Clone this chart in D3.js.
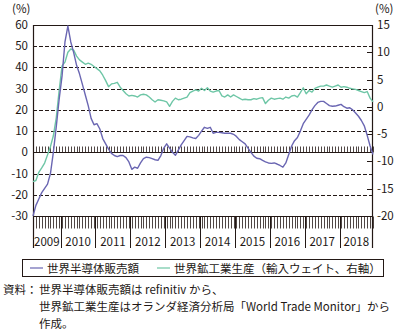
<!DOCTYPE html>
<html>
<head>
<meta charset="utf-8">
<script src="https://cdn.jsdelivr.net/npm/d3@7"></script>
<style>
  html, body { margin: 0; padding: 0; background: #fff; }
  svg { display: block; }
  text { font-family: "Noto Sans CJK JP", "Noto Sans", sans-serif; fill: #231815; }
</style>
</head>
<body>
<svg id="chart" width="406" height="331"></svg>
<script>
// Monthly series, March 2009 – December 2018 (year-on-year, %)
const startMonth = new Date(2009, 2, 1);
const endMonth = new Date(2018, 11, 1);
const years = ["2009","2010","2011","2012","2013","2014","2015","2016","2017","2018"];
const leftTicks = [60, 50, 40, 30, 20, 10, 0, -10, -20, -30];
const rightTicks = [15, 10, 5, 0, -5, -10, -15, -20];

// World semiconductor sales (left axis)
const semiSales = [
  -30, -25, -22, -19, -17, -15, -10, 0, 12, 25,
  36, 52, 59.5, 52, 47, 41, 37, 32, 27, 22,
  16, 13, 13.5, 11, 6.5, 4, 1.5, -0.5, -1.5, -2,
  -1.5, -1.5, -2.5, -4.5, -8, -7, -7.5, -5, -3, -2.3,
  -2.5, -3, -3.5, -3.8, -1.5, 2, 4, 2, 0, -1.4,
  1, 3.5, 5.5, 7.5, 7.3, 6.8, 6.5, 8, 10, 11.8,
  11.3, 11.8, 9, 9.4, 9.4, 9.2, 9, 9, 9, 8.5,
  7.5, 6, 5, 4, 2, 0, -1.8, -2.8, -3, -3.8,
  -4.5, -5, -5.2, -5, -5.5, -6.2, -7, -5, -1, 3,
  5.5, 7, 10, 13.5, 15.5, 17.5, 20, 22, 23.5, 24,
  24, 23, 22, 21.7, 21.8, 22.2, 22.6, 21.5, 20.8, 21,
  20, 18.5, 17, 15, 12.5, 8, 3, -1
];

// World industrial production, import-weighted (right axis)
const industrialProd = [
  -13.7, -13.5, -12, -11.2, -10.3, -8.8, -7.3, -5.3, -2, 3,
  7.5, 8.2, 10, 10.6, 10.4, 9.3, 8.6, 8.2, 7.8, 8.0,
  7.8, 7.4, 7.0, 6.6, 5.8, 4.8, 3.7, 4.2, 4.3, 4.5,
  3.6, 3.0, 2.4, 2.0, 2.1, 2.0, 1.8, 2.2, 2.3, 2.2,
  1.8, 1.3, 0.9, 1.3, 1.2, 1.1, 0.9, 0.1, 1.0, 1.6,
  1.3, 1.4, 1.6, 1.8, 2.6, 2.9, 3.1, 2.9, 3.4, 3.0,
  3.5, 2.9, 2.7, 2.9, 3.0, 2.0, 1.8, 2.2, 1.8, 2.2,
  1.9, 1.6, 1.3, 1.4, 1.3, 1.3, 1.5, 1.4, 1.6, 1.7,
  0.6, 1.2, 1.6, 1.4, 1.5, 1.6, 1.4, 1.8, 1.6, 2.0,
  2.1, 1.8, 2.6, 3.5, 2.4, 3.0, 2.7, 3.4, 3.6, 3.8,
  3.8, 4.0, 3.8, 3.6, 3.8, 4.0, 3.6, 3.7, 3.6, 3.4,
  3.3, 3.2, 3.0, 2.8, 2.6, 2.8, 1.6, 0.9
];

const seriesNames = ["世界半導体販売額", "世界鉱工業生産（輸入ウェイト、右軸）"];
const seriesColors = ["#6a66b2", "#6ec6a6"];
const noteLines = [
  "世界半導体販売額は refinitiv から、",
  "世界鉱工業生産はオランダ経済分析局「World Trade Monitor」から",
  "作成。"
];

const months = d3.timeMonth.range(startMonth, d3.timeMonth.offset(endMonth, 1));

const svg = d3.select("#chart");
const L = 33, R = 373, T = 25, B = 216, labelBottom = 248;

const x = d3.scaleLinear().domain([0, months.length - 1]).range([L, R]);
const yL = d3.scaleLinear().domain([-30, 60]).range([B, T]);
const yR = d3.scaleLinear().domain([-20, 15]).range([B, T]);

const fs = 11.5;

// dashed horizontal gridlines from the left axis
svg.append("g").selectAll("line")
  .data(leftTicks.filter(v => v !== 60 && v !== 0 && v !== -30))
  .join("line")
  .attr("x1", L).attr("x2", R)
  .attr("y1", d => Math.round(yL(d)) + 0.5).attr("y2", d => Math.round(yL(d)) + 0.5)
  .attr("stroke", "#231815").attr("stroke-width", 1).attr("stroke-dasharray", "4,2");

// zero line with monthly ticks
const y0 = Math.round(yL(0)) + 0.5;
svg.append("line").attr("x1", L).attr("x2", R).attr("y1", y0).attr("y2", y0)
  .attr("stroke", "#231815").attr("stroke-width", 1);
svg.append("g").selectAll("line").data(months).join("line")
  .attr("x1", (d, i) => Math.round(x(i)) + 0.5).attr("x2", (d, i) => Math.round(x(i)) + 0.5)
  .attr("y1", y0 - 6).attr("y2", y0)
  .attr("stroke", "#231815").attr("stroke-width", 0.8);

// frame: top, bottom axis, left and right axes
const yB = Math.round(B) + 0.5;
svg.append("line").attr("x1", L).attr("x2", R).attr("y1", T + 0.5).attr("y2", T + 0.5)
  .attr("stroke", "#231815").attr("stroke-width", 1.2);
svg.append("line").attr("x1", L).attr("x2", R).attr("y1", yB).attr("y2", yB)
  .attr("stroke", "#231815").attr("stroke-width", 1.2);
svg.append("line").attr("x1", L + 0.5).attr("x2", L + 0.5).attr("y1", T).attr("y2", labelBottom)
  .attr("stroke", "#231815").attr("stroke-width", 1.2);
svg.append("line").attr("x1", R - 0.5).attr("x2", R - 0.5).attr("y1", T).attr("y2", labelBottom)
  .attr("stroke", "#231815").attr("stroke-width", 1.2);

// monthly ticks below the bottom axis
svg.append("g").selectAll("line").data(months).join("line")
  .attr("x1", (d, i) => Math.round(x(i)) + 0.5).attr("x2", (d, i) => Math.round(x(i)) + 0.5)
  .attr("y1", yB).attr("y2", yB + 12)
  .attr("stroke", "#231815").attr("stroke-width", 0.8);

// year separators and year labels
const yearIdx = years.map(yr => {
  const idx = months.map((m, i) => [m, i]).filter(([m]) => m.getFullYear() === +yr).map(d => d[1]);
  return { yr, first: idx[0], last: idx[idx.length - 1] };
});
const bounds = yearIdx.map(d => ({
  yr: d.yr,
  x0: d.first === 0 ? L : x(d.first - 0.5),
  x1: d.last === months.length - 1 ? R : x(d.last + 0.5)
}));
svg.append("g").selectAll("line").data(bounds.slice(1)).join("line")
  .attr("x1", d => Math.round(d.x0) + 0.5).attr("x2", d => Math.round(d.x0) + 0.5)
  .attr("y1", yB).attr("y2", labelBottom)
  .attr("stroke", "#231815").attr("stroke-width", 1);
svg.append("g").selectAll("text").data(bounds).join("text")
  .attr("x", d => (d.x0 + d.x1) / 2).attr("y", 246)
  .attr("text-anchor", "middle").attr("font-size", fs)
  .text(d => d.yr);

// left axis labels
svg.append("g").selectAll("text").data(leftTicks).join("text")
  .attr("x", 28).attr("y", d => yL(d) + 4)
  .attr("text-anchor", "end").attr("font-size", fs)
  .text(d => d);

// right axis ticks (inward) and labels
svg.append("g").selectAll("line").data(rightTicks.filter(v => v !== 15 && v !== -20)).join("line")
  .attr("x1", R - 6).attr("x2", R)
  .attr("y1", d => Math.round(yR(d)) + 0.5).attr("y2", d => Math.round(yR(d)) + 0.5)
  .attr("stroke", "#231815").attr("stroke-width", 1);
svg.append("g").selectAll("text").data(rightTicks).join("text")
  .attr("x", 377).attr("y", d => yR(d) + 4)
  .attr("text-anchor", "start").attr("font-size", fs)
  .text(d => d);

// unit labels
svg.append("text").attr("x", 12).attr("y", 13).attr("font-size", fs).text("(%)");
svg.append("text").attr("x", 375).attr("y", 13).attr("font-size", fs).text("(%)");

// series lines
const lineL = d3.line().x((d, i) => x(i)).y(d => yL(d));
const lineR = d3.line().x((d, i) => x(i)).y(d => yR(d));
svg.append("path").datum(industrialProd).attr("d", lineR)
  .attr("fill", "none").attr("stroke", seriesColors[1]).attr("stroke-width", 1.4)
  .attr("stroke-linejoin", "round");
svg.append("path").datum(semiSales).attr("d", lineL)
  .attr("fill", "none").attr("stroke", seriesColors[0]).attr("stroke-width", 1.4)
  .attr("stroke-linejoin", "round");

// legend
const lg = svg.append("g");
lg.append("rect").attr("x", 22.5).attr("y", 259.5).attr("width", 361).attr("height", 17)
  .attr("fill", "none").attr("stroke", "#231815").attr("stroke-width", 1);
const legendItems = [
  { name: seriesNames[0], color: seriesColors[0], lx: 30, tx: 47 },
  { name: seriesNames[1], color: seriesColors[1], lx: 157, tx: 174 }
];
legendItems.forEach(it => {
  lg.append("line").attr("x1", it.lx).attr("x2", it.lx + 13).attr("y1", 268).attr("y2", 268)
    .attr("stroke", it.color).attr("stroke-width", 1.2);
  lg.append("text").attr("x", it.tx).attr("y", 272.5).attr("font-size", fs).text(it.name);
});

// source notes
svg.append("text").attr("x", 3).attr("y", 294).attr("font-size", fs).text("資料：");
noteLines.forEach((t, i) => {
  svg.append("text").attr("x", 39).attr("y", 294 + i * 17).attr("font-size", fs).text(t);
});
</script>
</body>
</html>
